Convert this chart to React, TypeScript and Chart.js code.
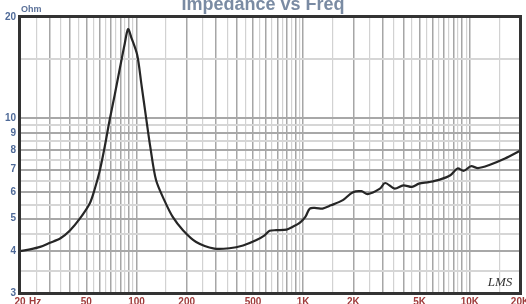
import React, { useEffect, useRef } from 'react';
import { Chart, registerables } from 'chart.js';

Chart.register(...registerables);

// Frequency (Hz) and impedance magnitude (Ohm)
const freqHz = [
  20, 23, 26.4, 30, 35, 40, 45.7, 52.5, 56, 60, 64, 69, 74, 79, 85, 89, 93, 101, 107, 114, 121,
  131, 147, 165, 190, 228, 293, 361, 436, 521, 587, 629, 690, 796, 867, 957, 1031, 1096,
  1200, 1307, 1467, 1731, 1979, 2235, 2436, 2887, 3105, 3538, 3989, 4498, 4948, 5680,
  6594, 7645, 8433, 9212, 10150, 11190, 12980, 16260, 20000,
];
const impedanceOhm = [
  4.0, 4.05, 4.12, 4.23, 4.37, 4.62, 5.0, 5.56, 6.1, 6.9, 8.04, 9.85, 11.7, 13.85, 16.65, 18.4,
  17.4, 15.4, 12.6, 10.07, 8.19, 6.52, 5.67, 5.06, 4.62, 4.26, 4.07, 4.08, 4.16, 4.31, 4.46,
  4.6, 4.62, 4.64, 4.73, 4.87, 5.06, 5.36, 5.38, 5.36, 5.48, 5.68, 5.99, 6.04, 5.92, 6.15,
  6.39, 6.15, 6.29, 6.22, 6.36, 6.43, 6.54, 6.74, 7.06, 6.95, 7.17, 7.08, 7.22, 7.56, 7.97,
];

// Axis ticks and labels
const xLabelValues = [20, 50, 100, 200, 500, 1000, 2000, 5000, 10000, 20000];
const xLabelTexts = ['20', '50', '100', '200', '500', '1K', '2K', '5K', '10K', '20K'];
const yLabelValues = [3, 4, 5, 6, 7, 8, 9, 10, 20];
const yLabelTexts = ['3', '4', '5', '6', '7', '8', '9', '10', '20'];
const yGridMajor = [3, 4, 5, 6, 7, 8, 9, 10, 20];
const yGridMinor = [3.5, 4.5, 5.5, 6.5, 7.5, 8.5, 9.5, 15];

const xGridMajor: number[] = [];
const xGridMinor: number[] = [];
for (const dec of [10, 100, 1000, 10000]) {
  for (let m = 1; m <= 9; m++) {
    const v = m * dec;
    if (v >= 20 && v <= 20000) xGridMajor.push(v);
    const h = (m + 0.5) * dec;
    if (h > 20 && h < 20000 && m < 9) xGridMinor.push(h);
  }
}
xGridMinor.push(95, 950, 9500);

const xTicks = [...xGridMajor, ...xGridMinor].sort((a, b) => a - b);
const yTicks = [...yGridMajor, ...yGridMinor].sort((a, b) => a - b);
const xMinorSet = new Set(xGridMinor);
const yMinorSet = new Set(yGridMinor);

const decor = {
  id: 'decor',
  afterDraw(chart: any) {
    const { ctx, chartArea } = chart;
    const { left, top, right, bottom } = chartArea;
    ctx.save();
    // frame
    ctx.strokeStyle = '#333333';
    ctx.lineWidth = 3;
    ctx.strokeRect(left - 0.5, top - 0.5, right - left + 1, bottom - top + 1);
    // title
    ctx.fillStyle = '#7a8ba3';
    ctx.font = 'bold 18px Arial, "Liberation Sans", sans-serif';
    ctx.textAlign = 'center';
    ctx.textBaseline = 'alphabetic';
    ctx.fillText('Impedance vs Freq', 263, 10);
    // unit label
    ctx.fillStyle = '#5a7098';
    ctx.font = 'bold 9px Arial, "Liberation Sans", sans-serif';
    ctx.textAlign = 'left';
    ctx.textBaseline = 'middle';
    ctx.fillText('Ohm', left + 1, 10);
    // Hz
    ctx.fillStyle = '#a03c3c';
    ctx.font = 'bold 10px Arial, "Liberation Sans", sans-serif';
    ctx.textAlign = 'left';
    ctx.textBaseline = 'middle';
    ctx.fillText('Hz', left + 9, bottom + 9);
    // LMS mark
    ctx.fillStyle = '#333333';
    ctx.font = 'italic 13px "Liberation Serif", serif';
    ctx.textAlign = 'center';
    ctx.fillText('LMS', right - 20, bottom - 10);
    ctx.restore();
  },
};

export default function App() {
  const ref = useRef<HTMLCanvasElement | null>(null);
  useEffect(() => {
    if (!ref.current) return;
    const points = freqHz.map((f, i) => ({ x: f, y: impedanceOhm[i] }));
    const chart = new Chart(ref.current, {
      type: 'line',
      data: {
        datasets: [
          {
            data: points,
            borderColor: '#262626',
            borderWidth: 2.2,
            pointRadius: 0,
            tension: 0.3,
            fill: false,
          },
        ],
      },
      options: {
        animation: false,
        responsive: true,
        maintainAspectRatio: false,
        layout: { padding: { top: 17, right: 6, left: 0, bottom: 0 } },
        plugins: {
          legend: { display: false },
          title: { display: false },
          tooltip: { enabled: false },
        },
        scales: {
          x: {
            type: 'logarithmic',
            min: 20,
            max: 20000,
            afterBuildTicks: (s: any) => {
              s.ticks = xTicks.map((v) => ({ value: v }));
            },
            afterFit: (s: any) => {
              s.height = 11;
              s.paddingLeft = 0;
              s.paddingRight = 0;
            },
            grid: {
              drawTicks: false,
              color: (c: any) => (c.tick && xMinorSet.has(c.tick.value) ? '#d2d2d2' : '#a6a6a6'),
              lineWidth: (c: any) => (c.tick && xMinorSet.has(c.tick.value) ? 1.2 : 1.5),
            },
            border: { display: false },
            ticks: {
              autoSkip: false,
              maxRotation: 0,
              minRotation: 0,
              padding: 3,
              color: '#a03c3c',
              font: { family: 'Arial, "Liberation Sans", sans-serif', size: 10, weight: 'bold' },
              callback: (v: any) => {
                const i = xLabelValues.indexOf(Number(v));
                return i >= 0 ? xLabelTexts[i] : '';
              },
            },
          },
          y: {
            type: 'logarithmic',
            min: 3,
            max: 20,
            afterBuildTicks: (s: any) => {
              s.ticks = yTicks.map((v) => ({ value: v }));
            },
            afterFit: (s: any) => {
              s.width = 20;
              s.paddingTop = 0;
              s.paddingBottom = 0;
            },
            grid: {
              drawTicks: false,
              color: (c: any) => (c.tick && yMinorSet.has(c.tick.value) ? '#d6d6d6' : '#a8a8a8'),
              lineWidth: 2,
            },
            border: { display: false },
            ticks: {
              autoSkip: false,
              padding: 4,
              color: '#4f6a98',
              font: { family: 'Arial, "Liberation Sans", sans-serif', size: 10, weight: 'bold' },
              callback: (v: any) => {
                const i = yLabelValues.indexOf(Number(v));
                return i >= 0 ? yLabelTexts[i] : '';
              },
            },
          },
        },
      },
      plugins: [decor],
    } as any);
    return () => chart.destroy();
  }, []);
  return (
    <div style={{ position: 'fixed', left: 0, top: 0, width: 526, height: 304, background: '#ffffff' }}>
      <canvas ref={ref} />
    </div>
  );
}
